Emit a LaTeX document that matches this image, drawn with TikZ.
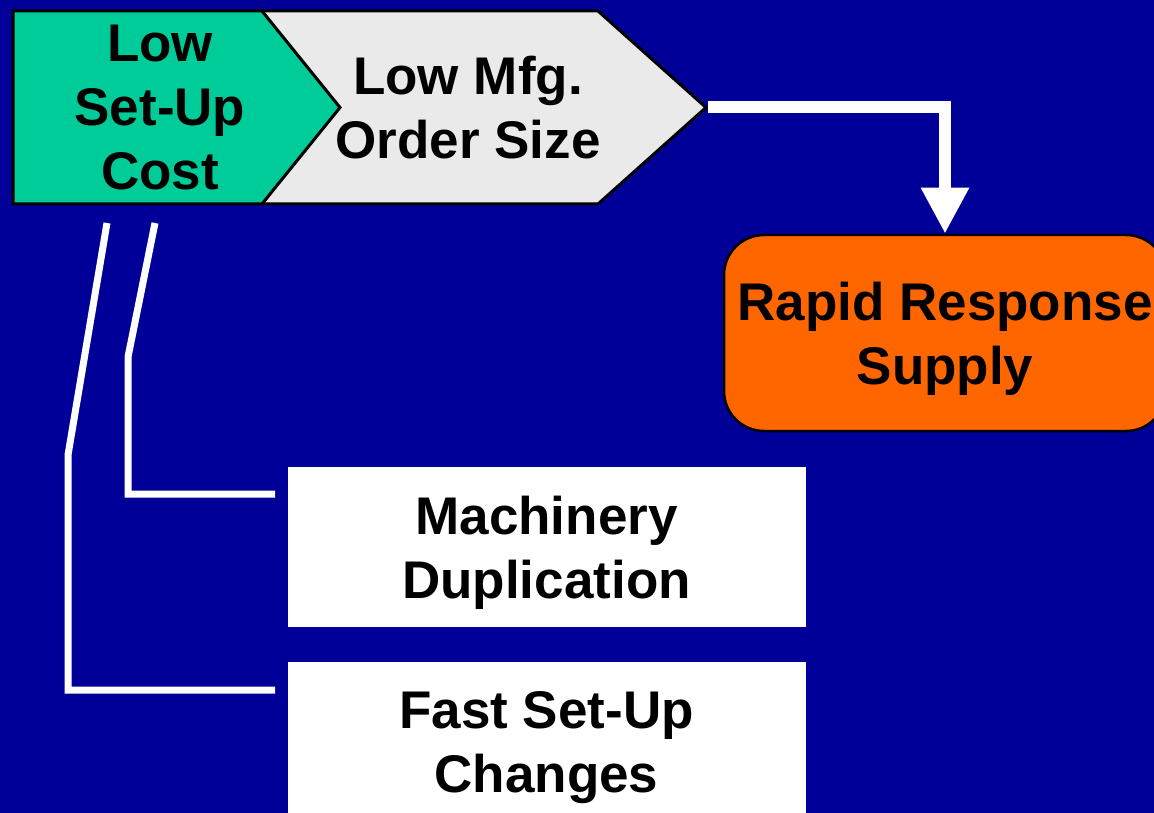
\documentclass[tikz,border=0pt]{standalone}
\usepackage{fontspec}
\setmainfont{Liberation Sans}
\usepackage{tikz}
\usetikzlibrary{positioning}
\usetikzlibrary{arrows.meta}

\definecolor{slideblue}{RGB}{0,0,153}
\definecolor{setupgreen}{RGB}{0,204,153}
\definecolor{chevrongrey}{RGB}{234,234,234}
\definecolor{rapidorange}{RGB}{255,102,0}

\begin{document}
\begin{tikzpicture}[x=1pt,y=-1pt]

\tikzset{big text/.style={
		font=\fontsize{53}{64}\selectfont\bfseries,
		align=center,
		text depth=0pt,
		inner sep=0pt
	},
	chevron/.style={draw=black, line width=3pt, line join=miter},
	cause box/.style={big text, fill=white,
		minimum width=518pt, minimum height=160pt},
	white line/.style={draw=white, line width=7pt},
	flow arrow/.style={draw=white, line width=12pt,
		-{Triangle[width=45pt,length=46pt]}}
}

\useasboundingbox (0,0) rectangle (1154,813);
\clip (0,0) rectangle (1154,813);
\fill[slideblue] (0,0) rectangle (1154,813);

% chevrons along the top
\filldraw[chevron, fill=chevrongrey] (262,11) -- (598,11) -- (706,107.5)
	-- (598,204) -- (262,204) -- cycle;
\filldraw[chevron, fill=setupgreen] (13,11) -- (262,11) -- (340,107.5)
	-- (262,204) -- (13,204) -- cycle;
\node[big text] (setup) at (160,107.5) {Low\\Set-Up\\Cost};
\node[big text] (ordersize) at (468,107.5) {Low Mfg.\\Order Size};
\coordinate (ordertip) at (708,107.5);

% outcome
\node[big text, draw=black, line width=2.5pt, fill=rapidorange,
	rounded corners=40pt, minimum width=442pt, minimum height=196pt]
	(rapid) at (945,333) {Rapid Response\\Supply};
\draw[flow arrow] (ordertip) -| (rapid.north);

% ways to get a low set-up cost
\node[cause box] (dup) at (546.5,547) {Machinery\\Duplication};
\node[cause box, below=35pt of dup] (fast) {Fast Set-Up\\Changes};

\coordinate (dupfoot) at (155,223);
\coordinate (dupend) at (275,494);
\coordinate (fastfoot) at (107,223);
\coordinate (fastend) at (275,690);
\draw[white line] (dupfoot) -- (128,357) |- (dupend);
\draw[white line] (fastfoot) -- (68,455) |- (fastend);

\end{tikzpicture}
\end{document}
